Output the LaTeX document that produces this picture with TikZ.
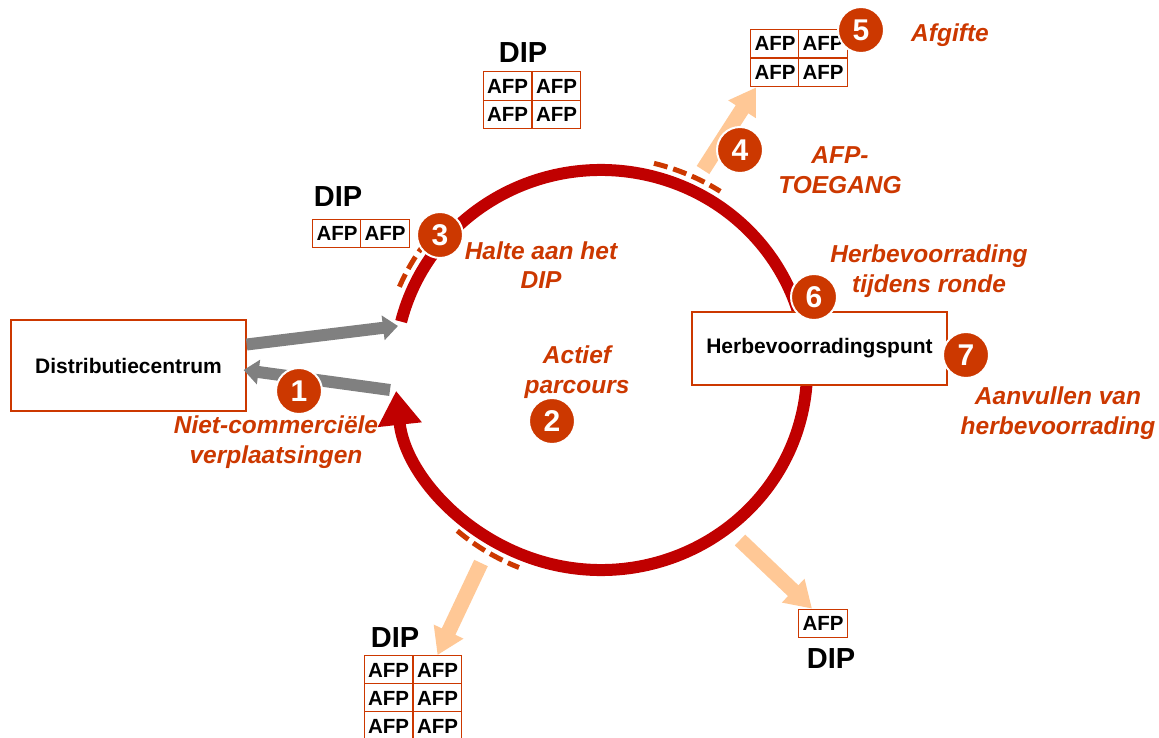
\documentclass[tikz,border=0pt]{standalone}
\usepackage{fontspec}
\setmainfont{Liberation Sans}
\usetikzlibrary{arrows.meta}
\definecolor{ringred}{RGB}{192,0,0}
\definecolor{accent}{RGB}{204,56,0}
\definecolor{peach}{RGB}{255,200,150}
\definecolor{arrowgray}{RGB}{128,128,128}
\begin{document}
\begin{tikzpicture}[x=1pt,y=-1pt,
  ring/.style={draw=ringred,line width=12pt,-{Triangle[length=34pt,width=42pt]}},
  dasharc/.style={draw=accent,line width=5pt,dash pattern=on 14pt off 6pt},
  grayarrow/.style={draw=arrowgray,line width=12pt,-{Triangle[length=15pt,width=24pt]}},
  peacharrow/.style={draw=peach,line width=15pt,-{Triangle[length=26pt,width=31pt]}},
  place/.style={draw=accent,line width=1.3pt,fill=white,inner sep=0pt,
    font=\fontsize{21}{24}\selectfont\bfseries},
  cell/.style={draw=accent,line width=1.3pt,fill=white,inner sep=0pt,
    minimum width=48.5pt,minimum height=28.5pt,font=\fontsize{20.5}{24}\selectfont\bfseries},
  dip/.style={inner sep=0pt,font=\fontsize{29}{32}\selectfont\bfseries},
  lbl/.style={text=accent,align=center,inner sep=0pt,
    font=\fontsize{24.5}{29.5}\selectfont\bfseries\itshape},
  num/.style={circle,fill=accent,draw=white,line width=2pt,minimum size=46pt,
    inner sep=0pt,text=white,font=\fontsize{30}{30}\selectfont\bfseries}
]
\useasboundingbox (0,0) rectangle (1159,738);

% distribution centre
\node[place,minimum width=235pt,minimum height=91pt] (dc) at (128.5,365.5) {Distributiecentrum};

% AFP grids
\node[cell] (tr11) at (775,43.5) {AFP};
\node[cell] (tr12) at (823,43.5) {AFP};
\node[cell] (tr21) at (775,72.5) {AFP};
\node[cell] (tr22) at (823,72.5) {AFP};

\node[dip] (dipT) at (523,53) {DIP};
\node[cell] (t11) at (507.5,86) {AFP};
\node[cell] (t12) at (556.5,86) {AFP};
\node[cell] (t21) at (507.5,114.5) {AFP};
\node[cell] (t22) at (556.5,114.5) {AFP};

\node[dip] (dipL) at (338,197) {DIP};
\node[cell] (l11) at (337,233.5) {AFP};
\node[cell] (l12) at (385,233.5) {AFP};

\node[dip] (dipBL) at (395,638) {DIP};
\node[cell] (b11) at (388.5,670) {AFP};
\node[cell] (b12) at (437.5,670) {AFP};
\node[cell] (b21) at (388.5,698) {AFP};
\node[cell] (b22) at (437.5,698) {AFP};
\node[cell] (b31) at (388.5,726) {AFP};
\node[cell] (b32) at (437.5,726) {AFP};

\node[cell] (br) at (823,623.5) {AFP};
\node[dip] (dipBR) at (831,659) {DIP};

% the tour ring and its stops
\coordinate (O) at (601,370);
\coordinate (a4) at (703,170);
\coordinate (a6) at (481,563);
\coordinate (a7) at (740,540);
\draw[peacharrow] (a4) -- ([xshift=6pt]tr21.south west);
\draw[peacharrow] (a6) -- (b12.north);
\draw[peacharrow] (a7) -- ([xshift=-11pt]br.north);

\draw[ring] ([shift={(166:206pt and 200pt)}]O)
  arc[start angle=166,end angle=-174,x radius=206pt,y radius=200pt];

\draw[dasharc] ([shift={(76:219pt and 213pt)}]O)
  arc[start angle=76,end angle=57,x radius=219pt,y radius=213pt];
\draw[dasharc] ([shift={(157:219pt and 213pt)}]O)
  arc[start angle=157,end angle=140,x radius=219pt,y radius=213pt];
\draw[dasharc] ([shift={(-131:219pt and 213pt)}]O)
  arc[start angle=-131,end angle=-112,x radius=219pt,y radius=213pt];

% moves between the distribution centre and the ring
\coordinate (ringIn) at (398,326);
\coordinate (ringOut) at (390,390);
\draw[grayarrow] ([yshift=21pt]dc.east) -- (ringIn);
\draw[grayarrow] (ringOut) -- ([xshift=-3pt,yshift=-4.5pt]dc.east);

% resupply point sits on the ring
\node[place,minimum width=255pt,minimum height=73pt] (hp) at (819.5,348.5) {Herbevoorradingspunt};

% labels
\node[lbl] (L1) at (276,442) {Niet-commerciële\\verplaatsingen};
\node[lbl] (L2) at (577,372) {Actief\\parcours};
\node[lbl] (L3) at (541,265) {Halte aan het\\DIP};
\node[lbl] (L4) at (840,170) {AFP-\\TOEGANG};
\node[lbl] (L5) at (950,35) {Afgifte};
\node[lbl] (L6) at (929,271) {Herbevoorrading\\tijdens ronde};
\node[lbl] (L7) at (1058,413) {Aanvullen van\\herbevoorrading};

% step numbers
\node[num] (n1) at (299,391) {1};
\node[num] (n2) at (552,421) {2};
\node[num] (n3) at (440,235) {3};
\node[num] (n4) at (740,150) {4};
\node[num] (n5) at (861,30) {5};
\node[num] (n6) at (814,297) {6};
\node[num] (n7) at (966,355) {7};
\end{tikzpicture}
\end{document}
